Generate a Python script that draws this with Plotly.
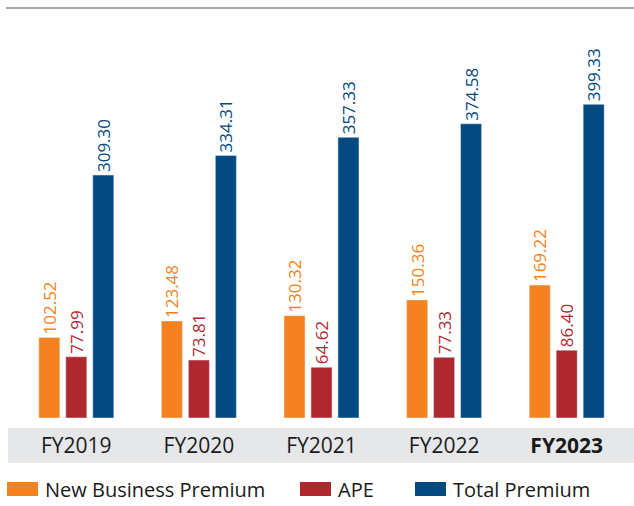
import plotly.graph_objects as go

categories = ["FY2019", "FY2020", "FY2021", "FY2022", "FY2023"]
tick_labels = ["FY2019", "FY2020", "FY2021", "FY2022", "<b>FY2023</b>"]
new_business = [102.52, 123.48, 130.32, 150.36, 169.22]
ape = [77.99, 73.81, 64.62, 77.33, 86.40]
total_premium = [309.30, 334.31, 357.33, 374.58, 399.33]
series_names = ["New Business Premium", "APE", "Total Premium"]
series_colors = ["#F58220", "#B0282F", "#034A80"]
series_values = [new_business, ape, total_premium]

W, H = 634, 506
ML, MR, MT, MB = 15, 6, 8, 88
PW = W - ML - MR
PH = H - MT - MB
FONT = "'Open Sans', Lato, sans-serif"

def px_x(p):
    return (p - ML) / PW

def px_y(p):
    return (H - MB - p) / PH

fig = go.Figure()
for name, color, vals in zip(series_names, series_colors, series_values):
    fig.add_trace(go.Bar(
        x=categories, y=vals, name=name, marker_color=color,
        text=[f"{v:.2f}" for v in vals], textposition="outside",
        textangle=-90, cliponaxis=False, constraintext="none",
        textfont=dict(color=color, size=17, family=FONT),
        showlegend=False, hoverinfo="skip",
    ))

shapes = [
    dict(type="line", xref="paper", yref="paper", x0=px_x(6), x1=px_x(634),
         y0=px_y(8), y1=px_y(8), line=dict(color="#8A8A8A", width=1.5), layer="below"),
    dict(type="rect", xref="paper", yref="paper", x0=px_x(8), x1=px_x(634),
         y0=px_y(428), y1=px_y(463), fillcolor="#E6E7E8", line=dict(width=0), layer="below"),
]
annotations = []
legend_boxes = [(7, 38), (300, 331), (415, 446)]
for (bx0, bx1), name, color in zip(legend_boxes, series_names, series_colors):
    shapes.append(dict(type="rect", xref="paper", yref="paper",
                       x0=px_x(bx0), x1=px_x(bx1), y0=px_y(482), y1=px_y(496),
                       fillcolor=color, line=dict(width=0)))
    annotations.append(dict(xref="paper", yref="paper", x=px_x(bx1 + 5), y=px_y(489),
                            text=name, showarrow=False, xanchor="left", yanchor="middle",
                            font=dict(size=20, color="#1a1a1a", family=FONT)))

fig.update_layout(
    width=W, height=H,
    margin=dict(l=ML, r=MR, t=MT, b=MB),
    paper_bgcolor="white", plot_bgcolor="white",
    barmode="group", bargap=0.34, bargroupgap=0.22,
    shapes=shapes, annotations=annotations,
    xaxis=dict(tickmode="array", tickvals=categories, ticktext=tick_labels,
               showline=False, showgrid=False, ticks="", ticklabelstandoff=13,
               tickfont=dict(size=21, color="#1a1a1a", family=FONT)),
    yaxis=dict(range=[0, 522], visible=False, showgrid=False, zeroline=False),
)

fig.write_html(
    "out.html",
    config={"displayModeBar": False},
    post_script="document.body.style.margin='0';document.body.style.overflow='hidden';",
)
